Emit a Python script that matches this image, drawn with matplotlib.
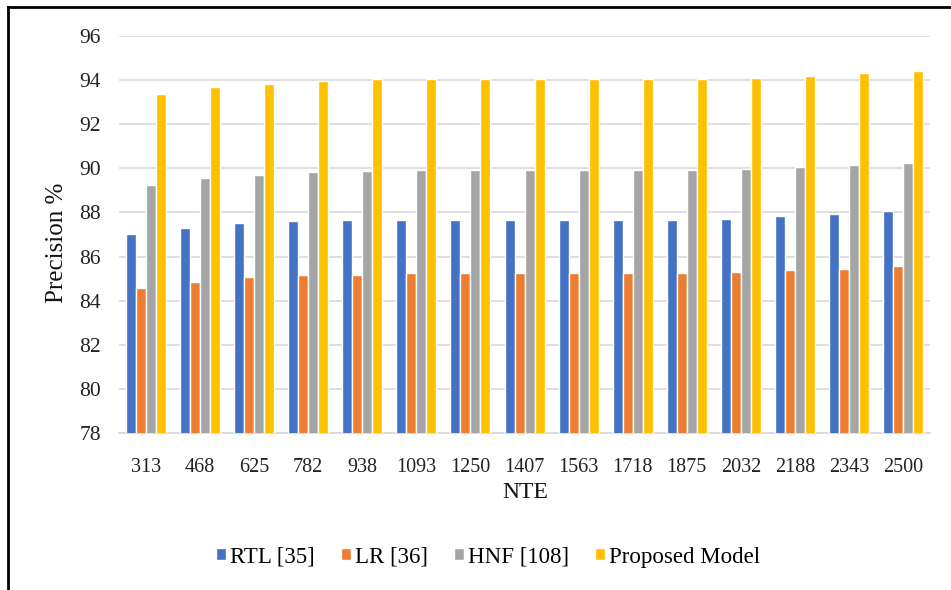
import matplotlib.pyplot as plt
import numpy as np
from matplotlib.lines import Line2D

plt.rcParams['font.family'] = ['Liberation Serif', 'DejaVu Serif']

# NTE values on the x axis
nte = ['313', '468', '625', '782', '938', '1093', '1250', '1407', '1563',
       '1718', '1875', '2032', '2188', '2343', '2500']

# precision (%) of each method
rtl = [87.04, 87.29, 87.52, 87.61, 87.67, 87.67, 87.67, 87.67, 87.67,
       87.67, 87.67, 87.72, 87.84, 87.94, 88.05]
lr = [84.59, 84.86, 85.07, 85.18, 85.18, 85.24, 85.24, 85.24, 85.24,
      85.24, 85.24, 85.30, 85.40, 85.45, 85.57]
hnf = [89.24, 89.56, 89.72, 89.83, 89.89, 89.94, 89.94, 89.94, 89.94,
       89.94, 89.94, 89.98, 90.04, 90.15, 90.25]
proposed = [93.35, 93.67, 93.83, 93.94, 94.04, 94.03, 94.03, 94.03, 94.03,
            94.03, 94.03, 94.09, 94.19, 94.30, 94.42]

series = [rtl, lr, hnf, proposed]
names = ['RTL [35]', 'LR [36]', 'HNF [108]', 'Proposed Model']
colors = ['#4472C4', '#ED7D31', '#A5A5A5', '#FFC000']

fig = plt.figure(figsize=(9.51, 5.9), dpi=100)
ax = fig.add_axes([0.1251, 0.2661, 0.8529, 0.6729])

x = np.arange(len(nte))
w = 0.185
for i, (vals, name, col) in enumerate(zip(series, names, colors)):
    ax.bar(x + (i - 1.5) * w, vals, width=w, color=col, edgecolor='white',
           linewidth=1.0, label=name, zorder=3)

ax.set_ylim(78, 96)
ax.set_xlim(-0.5, len(nte) - 0.5)
ax.set_yticks(np.arange(78, 97, 2))
ax.set_xticks(x)
ax.set_xticklabels(nte)
ax.yaxis.grid(True, color='#D9D9D9', linewidth=1.2, zorder=0)
ax.set_axisbelow(True)
for s in ['top', 'right', 'left']:
    ax.spines[s].set_visible(False)
ax.spines['bottom'].set_color('#D9D9D9')
ax.spines['bottom'].set_linewidth(1.2)
ax.tick_params(axis='both', length=0, colors='#222222')
ax.tick_params(axis='y', pad=13, labelsize=15.5)
ax.tick_params(axis='x', pad=18, labelsize=14.5)

fig.text(525 / 951, 1 - 493 / 590, 'NTE', ha='center', va='center',
         fontsize=17, color='#111111')
fig.text(57 / 951, 1 - 243 / 590, 'Precision %', ha='center', va='center',
         rotation=90, fontsize=18, color='#111111')

fig.legend(loc='center', bbox_to_anchor=(488 / 951, 1 - 557 / 590), ncol=4,
           frameon=False, fontsize=16.5, handlelength=0.45, handleheight=0.45,
           handletextpad=0.15, columnspacing=1.15)

# outer frame on the left and top
fig.add_artist(Line2D([8 / 951, 8 / 951], [0, 1 - 7 / 590],
                      transform=fig.transFigure, color='black', linewidth=2))
fig.add_artist(Line2D([8 / 951, 1], [1 - 7 / 590, 1 - 7 / 590],
                      transform=fig.transFigure, color='black', linewidth=2))

fig.savefig('out.png', dpi=100)
